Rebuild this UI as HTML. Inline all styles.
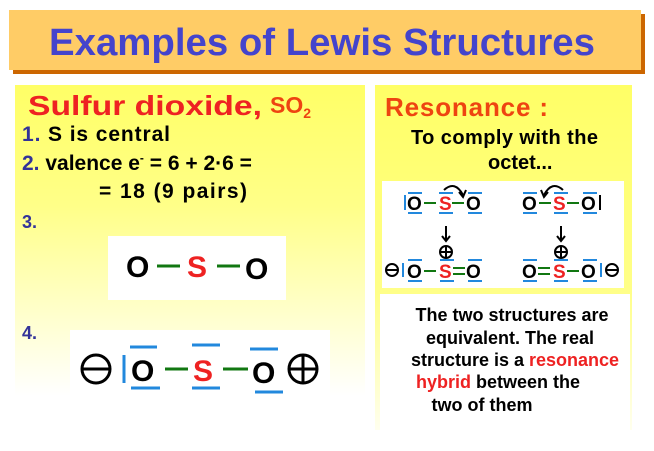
<!DOCTYPE html>
<html><head><style>
body{margin:0;width:654px;height:451px;background:#fff;overflow:hidden}
svg{display:block}
text{font-family:"Liberation Sans",sans-serif;font-weight:bold}
</style></head><body>
<svg width="654" height="451" viewBox="0 0 654 451">
<defs>
<linearGradient id="lg" x1="0" y1="0" x2="0" y2="1">
<stop offset="0" stop-color="#ffff66"/><stop offset="0.35" stop-color="#ffff88"/><stop offset="0.9" stop-color="#ffffff"/></linearGradient>
<linearGradient id="rg" x1="0" y1="0" x2="0" y2="1">
<stop offset="0" stop-color="#ffff66"/><stop offset="0.6" stop-color="#ffff88"/><stop offset="1" stop-color="#ffffee"/></linearGradient>
</defs>
<rect x="13" y="14" width="632" height="60" fill="#cc6600"/>
<rect x="9" y="10" width="632" height="60" fill="#ffcc66"/>
<text x="322" y="55" font-size="38" fill="#4444cc" text-anchor="middle" textLength="546" lengthAdjust="spacingAndGlyphs">Examples of Lewis Structures</text>
<rect x="15" y="85" width="350" height="345" fill="url(#lg)"/>
<rect x="375" y="85" width="257" height="345" fill="url(#rg)"/>
<text x="28" y="115" font-size="28" fill="#ee2222" textLength="234" lengthAdjust="spacingAndGlyphs">Sulfur dioxide,</text>
<text x="270" y="113" font-size="23" fill="#ee4411">SO<tspan font-size="14" dy="5">2</tspan></text>
<text x="22" y="141" font-size="21" fill="#333399" textLength="148">1.<tspan fill="#000"> S is central</tspan></text>
<text x="22" y="170" font-size="21" fill="#333399">2.<tspan fill="#000"> valence e</tspan><tspan fill="#000" font-size="12" dy="-8">-</tspan><tspan fill="#000" dy="8"> = 6 + 2·6 =</tspan></text>
<text x="99" y="198" font-size="21" fill="#000" textLength="148">= 18 (9 pairs)</text>
<text x="22" y="228" font-size="18" fill="#333399">3.</text>
<text x="22" y="339" font-size="18" fill="#333399">4.</text>
<rect x="108" y="236" width="178" height="64" fill="#fff"/>
<g font-size="30">
<text x="126" y="277" fill="#000">O</text>
<line x1="157" y1="266" x2="180" y2="266" stroke="#117711" stroke-width="3"/>
<text x="187" y="277" fill="#ee2222">S</text>
<line x1="217" y1="266" x2="240" y2="266" stroke="#117711" stroke-width="3"/>
<text x="245" y="279" fill="#000">O</text>
</g>
<rect x="70" y="330" width="260" height="68" fill="#fff"/>
<g font-size="30">
<circle cx="96" cy="369" r="14" fill="none" stroke="#000" stroke-width="3"/>
<line x1="82" y1="369" x2="110" y2="369" stroke="#000" stroke-width="3"/>
<line x1="124" y1="355" x2="124" y2="383" stroke="#2288dd" stroke-width="3"/>
<line x1="130" y1="347" x2="157" y2="347" stroke="#2288dd" stroke-width="3"/>
<line x1="131" y1="388" x2="160" y2="388" stroke="#2288dd" stroke-width="3"/>
<text x="131" y="381" fill="#000">O</text>
<line x1="165" y1="369" x2="188" y2="369" stroke="#117711" stroke-width="3"/>
<line x1="192" y1="345" x2="220" y2="345" stroke="#2288dd" stroke-width="3"/>
<line x1="192" y1="388" x2="220" y2="388" stroke="#2288dd" stroke-width="3"/>
<text x="193" y="381" fill="#ee2222">S</text>
<line x1="223" y1="369" x2="248" y2="369" stroke="#117711" stroke-width="3"/>
<line x1="250" y1="349" x2="278" y2="349" stroke="#2288dd" stroke-width="3"/>
<line x1="255" y1="392" x2="283" y2="392" stroke="#2288dd" stroke-width="3"/>
<text x="252" y="383" fill="#000">O</text>
<circle cx="303" cy="369" r="14" fill="none" stroke="#000" stroke-width="3"/>
<line x1="289" y1="369" x2="317" y2="369" stroke="#000" stroke-width="3"/>
<line x1="303" y1="355" x2="303" y2="383" stroke="#000" stroke-width="3"/>
</g>
<text x="385" y="116" font-size="26" fill="#ee4411" textLength="163">Resonance :</text>
<text x="411" y="144" font-size="20" fill="#000" textLength="187">To comply with the</text>
<text x="488" y="169" font-size="20" fill="#000">octet...</text>
<rect x="382" y="181" width="242" height="107" fill="#fff"/>
<g font-size="19" stroke-width="2">
<line x1="405" y1="195" x2="405" y2="210" stroke="#2288dd"/>
<line x1="408" y1="193" x2="422" y2="193" stroke="#2288dd"/><line x1="408" y1="213" x2="422" y2="213" stroke="#2288dd"/>
<text x="407" y="210" fill="#000">O</text>
<line x1="424" y1="203" x2="436" y2="203" stroke="#117711"/>
<line x1="439" y1="193" x2="453" y2="193" stroke="#2288dd"/><line x1="439" y1="213" x2="453" y2="213" stroke="#2288dd"/>
<text x="439" y="210" fill="#ee2222">S</text>
<line x1="452" y1="203" x2="464" y2="203" stroke="#117711"/>
<line x1="468" y1="193" x2="482" y2="193" stroke="#2288dd"/><line x1="468" y1="213" x2="482" y2="213" stroke="#2288dd"/>
<text x="466" y="210" fill="#000">O</text>
<path d="M444 190 Q455 180 463 195" fill="none" stroke="#000"/>
<path d="M459 192 L463 197 L466 190" fill="none" stroke="#000"/>
<line x1="446" y1="226" x2="446" y2="240" stroke="#000"/><path d="M442 236 L446 241 L450 236" fill="none" stroke="#000"/>
<circle cx="446" cy="252" r="6" fill="none" stroke="#000"/><line x1="440" y1="252" x2="452" y2="252" stroke="#000"/><line x1="446" y1="246" x2="446" y2="258" stroke="#000"/>
<circle cx="392" cy="270" r="6" fill="none" stroke="#000"/><line x1="386" y1="270" x2="398" y2="270" stroke="#000"/>
<line x1="403" y1="263" x2="403" y2="277" stroke="#2288dd"/>
<line x1="408" y1="260" x2="422" y2="260" stroke="#2288dd"/><line x1="408" y1="281" x2="422" y2="281" stroke="#2288dd"/>
<text x="407" y="278" fill="#000">O</text>
<line x1="424" y1="271" x2="436" y2="271" stroke="#117711"/>
<line x1="440" y1="260" x2="454" y2="260" stroke="#2288dd"/><line x1="440" y1="281" x2="454" y2="281" stroke="#2288dd"/>
<text x="439" y="278" fill="#ee2222">S</text>
<line x1="453" y1="268" x2="465" y2="268" stroke="#117711"/><line x1="453" y1="274" x2="465" y2="274" stroke="#117711"/>
<line x1="468" y1="260" x2="482" y2="260" stroke="#2288dd"/><line x1="468" y1="281" x2="482" y2="281" stroke="#2288dd"/>
<text x="466" y="278" fill="#000">O</text>
<line x1="523" y1="193" x2="537" y2="193" stroke="#2288dd"/><line x1="523" y1="213" x2="537" y2="213" stroke="#2288dd"/>
<text x="522" y="210" fill="#000">O</text>
<line x1="539" y1="203" x2="551" y2="203" stroke="#117711"/>
<line x1="554" y1="193" x2="568" y2="193" stroke="#2288dd"/><line x1="554" y1="213" x2="568" y2="213" stroke="#2288dd"/>
<text x="553" y="210" fill="#ee2222">S</text>
<line x1="567" y1="203" x2="579" y2="203" stroke="#117711"/>
<line x1="583" y1="193" x2="597" y2="193" stroke="#2288dd"/><line x1="583" y1="213" x2="597" y2="213" stroke="#2288dd"/>
<text x="581" y="210" fill="#000">O</text>
<line x1="600" y1="195" x2="600" y2="210" stroke="#000"/>
<path d="M563 190 Q552 180 544 195" fill="none" stroke="#000"/>
<path d="M541 190 L544 197 L548 192" fill="none" stroke="#000"/>
<line x1="561" y1="226" x2="561" y2="240" stroke="#000"/><path d="M557 236 L561 241 L565 236" fill="none" stroke="#000"/>
<circle cx="561" cy="252" r="6" fill="none" stroke="#000"/><line x1="555" y1="252" x2="567" y2="252" stroke="#000"/><line x1="561" y1="246" x2="561" y2="258" stroke="#000"/>
<line x1="523" y1="260" x2="537" y2="260" stroke="#2288dd"/><line x1="523" y1="281" x2="537" y2="281" stroke="#2288dd"/>
<text x="522" y="278" fill="#000">O</text>
<line x1="538" y1="268" x2="550" y2="268" stroke="#117711"/><line x1="538" y1="274" x2="550" y2="274" stroke="#117711"/>
<line x1="554" y1="260" x2="568" y2="260" stroke="#2288dd"/><line x1="554" y1="281" x2="568" y2="281" stroke="#2288dd"/>
<text x="553" y="278" fill="#ee2222">S</text>
<line x1="567" y1="271" x2="579" y2="271" stroke="#117711"/>
<line x1="583" y1="260" x2="597" y2="260" stroke="#2288dd"/><line x1="583" y1="281" x2="597" y2="281" stroke="#2288dd"/>
<text x="581" y="278" fill="#000">O</text>
<line x1="601" y1="263" x2="601" y2="277" stroke="#2288dd"/>
<circle cx="612" cy="270" r="6" fill="none" stroke="#000"/><line x1="606" y1="270" x2="618" y2="270" stroke="#000"/>
</g>
<rect x="380" y="294" width="250" height="136" fill="#fff"/>
<g font-size="18" fill="#000" text-anchor="middle">
<text x="512" y="321">The two structures are</text>
<text x="510" y="344">equivalent. The real</text>
<text x="515" y="366">structure is a <tspan fill="#ee2222">resonance</tspan></text>
<text x="498" y="388"><tspan fill="#ee2222">hybrid</tspan> between the</text>
<text x="482" y="411">two of them</text>
</g>
</svg>
</body></html>
